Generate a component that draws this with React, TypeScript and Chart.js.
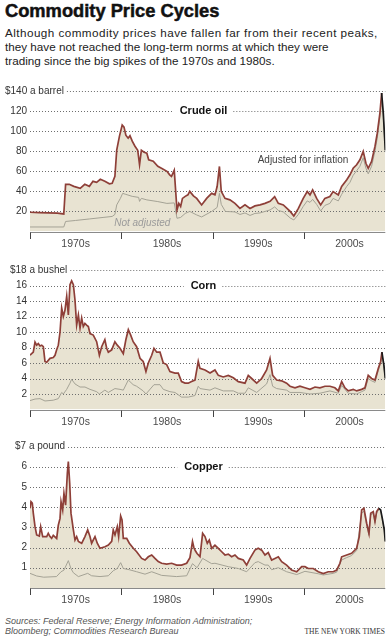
import React, { useEffect, useRef } from 'react';
import { Chart, registerables } from 'chart.js';

Chart.register(...registerables);

const X_MIN = 1970;
const X_MAX = 2008.92;
const decadeTicks = [1970, 1980, 1990, 2000];
const decadeLabels = ['1970s', '1980s', '1990s', '2000s'];

// ---- Crude oil ($ a barrel) ----
const oilRealYears = [1970.0, 1971.0, 1972.0, 1973.0, 1973.7, 1973.9, 1974.3, 1974.8, 1975.5, 1976.0, 1976.5, 1976.9, 1977.3, 1977.7, 1978.2, 1978.7, 1979.0, 1979.3, 1979.5, 1979.8, 1980.1, 1980.3, 1980.5, 1980.75, 1980.95, 1981.2, 1981.5, 1981.8, 1982.0, 1982.2, 1982.5, 1982.8, 1983.0, 1983.5, 1984.0, 1984.4, 1985.0, 1985.3, 1985.5, 1985.8, 1986.1, 1986.3, 1986.5, 1986.7, 1987.0, 1987.3, 1987.5, 1987.9, 1988.26, 1988.8, 1989.35, 1989.9, 1990.26, 1990.5, 1990.75, 1990.95, 1991.36, 1991.9, 1992.45, 1993.0, 1993.55, 1994.1, 1994.64, 1995.2, 1995.74, 1996.3, 1996.8, 1997.2, 1997.75, 1998.5, 1998.9, 1999.4, 1999.93, 2000.37, 2000.67, 2000.96, 2001.4, 2001.84, 2002.3, 2002.85, 2003.2, 2003.77, 2004.14, 2004.7, 2005.05, 2005.4, 2005.78, 2006.14, 2006.5, 2006.8, 2007.05, 2007.42, 2007.79, 2008.04, 2008.33, 2008.52, 2008.7, 2008.92];
const oilRealValues = [19.2, 18.8, 18.5, 18.3, 17.5, 47, 47, 45, 43, 47, 45, 50, 49, 52, 50, 47.5, 48, 55, 81, 95, 106, 104, 96, 93, 95.5, 90, 85, 81, 66.5, 81, 79, 78, 71.5, 70, 65, 63, 60, 56.5, 55, 61, 21.5, 28, 25, 33, 35, 36.5, 40, 35.5, 33, 26.5, 33, 38, 36.5, 44.8, 64.8, 40, 33, 31.5, 28, 23, 26.5, 23, 25.5, 26.5, 28, 30, 34.8, 28, 26.5, 20, 15.5, 23, 33, 39.8, 36.5, 41.5, 33, 26.5, 33, 34.8, 39.8, 36.5, 44.8, 51.5, 56.5, 63, 66.5, 71.5, 79.8, 68, 63, 69.8, 84.8, 98, 118, 138, 118, 81];
const oilNomYears = [1970.0, 1973.7, 1973.9, 1975.0, 1976.5, 1978.0, 1979.0, 1979.3, 1979.5, 1979.9, 1980.15, 1980.5, 1981.2, 1981.9, 1982.0, 1982.2, 1982.8, 1984.0, 1985.0, 1985.8, 1986.1, 1986.5, 1987.0, 1987.5, 1988.26, 1988.8, 1989.9, 1990.5, 1990.75, 1990.95, 1991.4, 1992.45, 1993.0, 1993.55, 1994.1, 1994.64, 1995.2, 1996.3, 1996.8, 1997.2, 1997.75, 1998.5, 1998.9, 1999.4, 1999.93, 2000.37, 2000.67, 2000.96, 2001.4, 2001.84, 2002.3, 2002.85, 2003.2, 2003.77, 2004.14, 2004.7, 2005.05, 2005.4, 2005.78, 2006.14, 2006.5, 2006.8, 2007.05, 2007.42, 2007.79, 2008.04, 2008.33, 2008.52, 2008.7, 2008.92];
const oilNomValues = [4.5, 4.5, 10, 11, 12.5, 14, 15, 17, 26.5, 33, 38, 37, 35, 34, 30, 33, 31.5, 29.8, 28, 28.5, 13.2, 14, 18, 20, 16.5, 14.5, 20, 24, 38, 27, 20, 19.5, 17, 18.5, 16, 18, 18.5, 21.5, 24.5, 21, 19.5, 13.5, 11.5, 17, 25, 30.5, 29, 32, 27, 20.5, 26, 28, 33, 30.5, 37, 45, 49, 56, 60.5, 65, 73.5, 63, 57.5, 65, 80, 93, 114, 133, 115, 79];

// ---- Corn ($ a bushel) ----
const cornRealYears = [1970.0, 1970.18, 1970.36, 1970.55, 1970.73, 1970.91, 1971.1, 1971.28, 1971.46, 1971.64, 1971.83, 1972.19, 1972.55, 1972.74, 1972.92, 1973.1, 1973.29, 1973.47, 1973.65, 1973.83, 1974.02, 1974.2, 1974.38, 1974.56, 1974.75, 1974.93, 1975.11, 1975.3, 1975.48, 1975.66, 1975.84, 1976.02, 1976.2, 1976.39, 1976.57, 1976.93, 1977.3, 1977.6, 1977.85, 1978.2, 1978.4, 1978.58, 1978.95, 1979.3, 1979.56, 1979.86, 1980.22, 1980.5, 1980.77, 1981.03, 1981.3, 1981.68, 1982.05, 1982.4, 1982.7, 1982.96, 1983.33, 1983.58, 1983.88, 1984.24, 1984.6, 1984.97, 1985.33, 1985.88, 1986.24, 1986.6, 1986.98, 1987.34, 1987.7, 1988.07, 1988.43, 1988.62, 1989.17, 1989.72, 1990.26, 1990.63, 1991.17, 1991.72, 1992.27, 1992.82, 1993.55, 1993.91, 1994.28, 1994.83, 1995.38, 1995.92, 1996.29, 1996.58, 1997.02, 1997.57, 1998.11, 1998.48, 1999.03, 1999.57, 2000.12, 2000.67, 2001.22, 2001.76, 2002.31, 2002.86, 2003.4, 2003.77, 2004.14, 2004.5, 2004.86, 2005.41, 2005.78, 2006.33, 2006.69, 2007.05, 2007.42, 2007.79, 2008.15, 2008.41, 2008.55, 2008.77, 2008.92];
const cornRealValues = [7.0, 7.2, 7.4, 8.7, 8.3, 8.5, 8.2, 8.3, 8.1, 6.2, 6.1, 6.6, 6.7, 7.0, 7.7, 8.3, 10.0, 13.1, 12.0, 12.8, 14.6, 12.2, 16.1, 16.6, 16.1, 14.1, 10.9, 12.2, 10.5, 11.8, 10.7, 11.1, 10.9, 10.7, 9.8, 9.6, 8.75, 7.0, 8.1, 9.0, 7.9, 7.4, 7.7, 8.75, 8.3, 7.9, 7.2, 9.0, 10.3, 9.6, 8.75, 8.1, 6.6, 6.2, 4.9, 6.0, 7.0, 7.9, 7.4, 7.4, 6.0, 5.8, 4.9, 4.7, 4.7, 3.6, 3.4, 3.4, 3.6, 3.8, 6.2, 5.3, 5.1, 4.7, 5.1, 4.4, 4.2, 4.4, 4.1, 3.6, 3.4, 4.4, 4.0, 3.4, 4.0, 5.1, 6.6, 4.4, 3.8, 3.7, 3.4, 3.0, 2.8, 3.0, 2.8, 2.6, 2.9, 2.8, 3.0, 3.0, 2.8, 2.4, 3.6, 2.8, 2.4, 2.6, 2.4, 2.6, 2.8, 4.4, 4.0, 3.8, 5.3, 6.2, 7.4, 5.7, 4.0];
const cornNomYears = [1970.0, 1970.55, 1971.1, 1971.64, 1972.55, 1973.1, 1973.47, 1973.65, 1974.02, 1974.38, 1974.56, 1974.93, 1975.48, 1976.02, 1976.57, 1977.3, 1977.6, 1978.2, 1978.58, 1979.3, 1979.86, 1980.22, 1980.77, 1981.3, 1981.68, 1982.4, 1982.7, 1983.58, 1984.24, 1984.6, 1985.33, 1985.88, 1986.6, 1987.34, 1988.07, 1988.43, 1988.62, 1989.72, 1990.26, 1991.17, 1992.27, 1992.82, 1993.55, 1993.91, 1994.83, 1995.92, 1996.29, 1996.58, 1997.02, 1998.11, 1998.48, 1999.57, 2000.12, 2000.67, 2001.76, 2002.86, 2003.77, 2004.14, 2004.86, 2005.78, 2006.33, 2006.69, 2007.05, 2007.42, 2007.79, 2008.15, 2008.41, 2008.55, 2008.77, 2008.92];
const cornNomValues = [1.15, 1.35, 1.4, 1.1, 1.2, 1.4, 2.2, 2.0, 2.6, 3.4, 3.9, 3.3, 2.9, 2.9, 2.6, 2.3, 2.0, 2.5, 2.2, 2.7, 2.6, 2.5, 3.8, 3.2, 3.0, 2.4, 2.0, 3.2, 3.2, 2.6, 2.3, 2.2, 1.6, 1.6, 1.8, 3.0, 2.7, 2.5, 2.8, 2.4, 2.4, 2.1, 2.1, 2.8, 2.2, 3.3, 4.5, 3.0, 2.7, 2.5, 2.2, 2.2, 2.1, 2.0, 2.1, 2.4, 2.1, 3.1, 2.1, 2.0, 2.3, 2.5, 4.0, 3.7, 3.5, 5.0, 6.0, 7.2, 5.5, 3.9];

// ---- Copper ($ a pound) ----
const copperRealYears = [1970.0, 1970.11, 1970.25, 1970.36, 1970.55, 1970.73, 1971.02, 1971.17, 1971.39, 1971.83, 1972.0, 1972.19, 1972.37, 1972.55, 1972.92, 1973.1, 1973.29, 1973.4, 1973.58, 1973.72, 1973.9, 1974.09, 1974.2, 1974.35, 1974.49, 1974.75, 1974.93, 1975.11, 1975.3, 1975.66, 1976.02, 1976.32, 1976.57, 1976.75, 1977.12, 1977.37, 1977.67, 1978.21, 1978.58, 1978.95, 1979.12, 1979.31, 1979.56, 1979.71, 1979.93, 1980.08, 1980.22, 1980.59, 1980.88, 1981.32, 1981.68, 1982.23, 1982.6, 1982.96, 1983.33, 1983.69, 1984.05, 1984.42, 1984.97, 1985.52, 1986.06, 1986.6, 1987.16, 1987.52, 1987.8, 1987.95, 1988.1, 1988.3, 1988.62, 1988.91, 1989.17, 1989.42, 1989.64, 1989.9, 1990.26, 1990.63, 1991.0, 1991.36, 1991.72, 1992.09, 1992.45, 1992.82, 1993.36, 1993.73, 1994.1, 1994.64, 1995.0, 1995.38, 1995.74, 1996.1, 1996.47, 1996.83, 1997.2, 1997.57, 1998.11, 1998.66, 1999.21, 1999.76, 2000.12, 2000.48, 2001.03, 2001.58, 2002.13, 2002.67, 2003.22, 2003.59, 2003.95, 2004.14, 2004.69, 2005.23, 2005.78, 2006.07, 2006.33, 2006.58, 2006.88, 2007.13, 2007.32, 2007.6, 2007.79, 2007.97, 2008.22, 2008.41, 2008.59, 2008.81, 2008.92];
const copperRealValues = [3.94, 4.27, 4.2, 3.7, 3.03, 2.62, 2.57, 3.03, 2.54, 2.54, 2.7, 2.54, 2.45, 2.6, 2.45, 3.1, 3.44, 4.27, 3.86, 4.68, 4.1, 5.67, 6.25, 5.18, 3.7, 2.87, 2.37, 2.54, 2.3, 2.21, 2.54, 2.87, 2.54, 2.21, 2.54, 2.21, 1.96, 2.04, 2.12, 2.3, 2.87, 2.62, 3.03, 2.54, 3.56, 3.36, 2.45, 2.45, 2.21, 1.96, 1.79, 1.46, 1.38, 1.54, 1.63, 1.46, 1.3, 1.22, 1.18, 1.22, 1.13, 1.13, 1.22, 1.5, 2.3, 2.0, 1.85, 1.7, 1.55, 2.7, 2.54, 2.21, 2.37, 1.96, 2.12, 1.96, 1.79, 1.63, 1.67, 1.54, 1.63, 1.46, 1.38, 1.13, 1.46, 1.87, 1.96, 1.87, 1.63, 1.75, 1.38, 1.46, 1.54, 1.3, 1.13, 0.88, 0.8, 1.05, 1.05, 0.96, 0.96, 0.8, 0.71, 0.8, 0.8, 0.88, 1.22, 1.54, 1.63, 1.71, 1.96, 2.54, 3.86, 3.94, 3.2, 2.7, 3.7, 3.78, 3.3, 3.78, 3.94, 3.86, 3.44, 2.87, 2.3];
const copperNomYears = [1970.0, 1970.73, 1971.5, 1972.9, 1973.4, 1973.72, 1974.2, 1974.49, 1974.75, 1975.3, 1976.32, 1976.75, 1977.67, 1978.58, 1979.12, 1979.56, 1979.93, 1980.22, 1980.88, 1981.68, 1982.6, 1983.33, 1984.42, 1986.06, 1987.16, 1987.8, 1988.3, 1988.91, 1989.9, 1990.26, 1991.72, 1992.82, 1993.73, 1994.64, 1995.0, 1995.74, 1996.1, 1996.47, 1997.2, 1998.11, 1999.21, 2000.12, 2001.58, 2002.13, 2003.22, 2003.59, 2004.14, 2004.69, 2005.23, 2005.78, 2006.33, 2006.58, 2006.88, 2007.13, 2007.32, 2007.6, 2007.79, 2007.97, 2008.22, 2008.41, 2008.59, 2008.81, 2008.92];
const copperNomValues = [0.72, 0.59, 0.53, 0.56, 0.8, 0.88, 1.35, 0.95, 0.75, 0.56, 0.72, 0.6, 0.56, 0.6, 0.85, 0.96, 1.25, 0.96, 0.9, 0.8, 0.68, 0.8, 0.62, 0.56, 0.6, 1.2, 1.0, 1.46, 1.2, 1.22, 1.05, 0.96, 0.8, 1.25, 1.3, 1.13, 1.13, 0.9, 1.0, 0.8, 0.66, 0.82, 0.7, 0.64, 0.72, 0.78, 1.38, 1.5, 1.6, 1.85, 3.7, 3.8, 3.1, 2.6, 3.6, 3.7, 3.2, 3.7, 3.9, 3.82, 3.4, 2.85, 2.28];

const FONT = '"Liberation Sans", Arial, Helvetica, sans-serif';
const RED = '#8e3f38';
const GRAY_LINE = '#a4a295';
const FILL = '#e8e3d2';

type Note = { text: string; x: number; y: number; italic?: boolean; color: string };

type PanelProps = {
  top: number;
  height: number;
  padTop: number;
  padBottom: number;
  yMax: number;
  yStep: number;
  topLabel: string;
  topLabelX: number;
  title: string;
  titleValue: number;
  realYears: number[];
  realValues: number[];
  nomYears: number[];
  nomValues: number[];
  blackFrom: number;
  notes: Note[];
};

function Panel(p: PanelProps) {
  const ref = useRef<HTMLCanvasElement>(null);
  useEffect(() => {
    const canvas = ref.current!;
    const real = p.realYears.map((x, i) => ({ x, y: p.realValues[i] }));
    const nominal = p.nomYears.map((x, i) => ({ x, y: p.nomValues[i] }));
    const blackIdx = p.realYears.indexOf(p.blackFrom);
    const ticks: number[] = [];
    for (let v = p.yStep; v <= p.yMax + 1e-9; v += p.yStep) ticks.push(v);

    const deco = {
      id: 'deco',
      afterDatasetDraw(chart: any, args: any) {
        if (args.index !== 0) return;
        const c = chart.ctx;
        const area = chart.chartArea;
        const ys = chart.scales.y;
        c.save();
        c.strokeStyle = '#6e6e6e';
        c.lineWidth = 1;
        c.setLineDash([1, 2]);
        c.font = `bold 11px ${FONT}`;
        const tw = c.measureText(p.title).width;
        const cx = 203.5;
        c.font = `10px ${FONT}`;
        ticks.forEach((v) => {
          const y = Math.round(ys.getPixelForValue(v)) + 0.5;
          let x0 = area.left;
          if (Math.abs(v - p.yMax) < 1e-9) {
            x0 = p.topLabelX + c.measureText(p.topLabel).width + 3;
          }
          const segs: [number, number][] = [];
          if (Math.abs(v - p.titleValue) < 1e-9) {
            segs.push([x0, cx - tw / 2 - 7]);
            segs.push([cx + tw / 2 + 6, area.right]);
          } else {
            segs.push([x0, area.right]);
          }
          segs.forEach(([a, b]) => {
            c.beginPath();
            c.moveTo(a, y);
            c.lineTo(b, y);
            c.stroke();
          });
        });
        c.restore();
      },
      afterDraw(chart: any) {
        const c = chart.ctx;
        const area = chart.chartArea;
        const xs = chart.scales.x;
        const ys = chart.scales.y;
        c.save();
        const by = Math.round(ys.getPixelForValue(0)) + 0.5;
        c.strokeStyle = '#8a8a8a';
        c.lineWidth = 1;
        c.beginPath();
        c.moveTo(area.left, by);
        c.lineTo(area.right, by);
        c.stroke();
        c.strokeStyle = '#444';
        decadeTicks.forEach((d) => {
          const x = Math.round(xs.getPixelForValue(d)) + 0.5;
          c.beginPath();
          c.moveTo(x, by);
          c.lineTo(x, by + 6.5);
          c.stroke();
        });
        c.fillStyle = '#4a4a4a';
        c.font = `10.5px ${FONT}`;
        c.textAlign = 'center';
        c.textBaseline = 'middle';
        decadeTicks.forEach((d, i) => {
          const x = (xs.getPixelForValue(d) + xs.getPixelForValue(d + 10)) / 2;
          c.fillText(decadeLabels[i], x, by + 11.5);
        });
        c.fillStyle = '#333';
        c.font = `10px ${FONT}`;
        ticks.forEach((v) => {
          const y = ys.getPixelForValue(v);
          if (Math.abs(v - p.yMax) < 1e-9) {
            c.textAlign = 'left';
            c.fillText(p.topLabel, p.topLabelX, y);
          } else {
            c.textAlign = 'right';
            c.fillText(String(v), 27, y);
          }
        });
        c.fillStyle = '#111';
        c.font = `bold 11px ${FONT}`;
        c.textAlign = 'center';
        c.fillText(p.title, 203.5, ys.getPixelForValue(p.titleValue));
        p.notes.forEach((n) => {
          c.fillStyle = n.color;
          c.font = `${n.italic ? 'italic ' : ''}10px ${FONT}`;
          c.textAlign = 'center';
          c.fillText(n.text, xs.getPixelForValue(n.x), ys.getPixelForValue(n.y));
        });
        c.restore();
      },
    };

    const chart = new Chart(canvas, {
      type: 'line',
      data: {
        datasets: [
          {
            data: real,
            fill: 'origin',
            backgroundColor: FILL,
            borderWidth: 0,
            borderColor: 'rgba(0,0,0,0)',
            pointRadius: 0,
            tension: 0,
            order: 3,
          },
          {
            data: nominal,
            fill: false,
            borderColor: GRAY_LINE,
            borderWidth: 1,
            pointRadius: 0,
            tension: 0,
            order: 2,
          },
          {
            data: real,
            fill: false,
            borderColor: RED,
            borderWidth: 1.7,
            pointRadius: 0,
            tension: 0,
            order: 1,
            segment: {
              borderColor: (ctx: any) => (ctx.p0DataIndex >= blackIdx ? '#1a1a1a' : RED),
            },
          },
        ],
      } as any,
      options: {
        animation: false,
        responsive: false,
        maintainAspectRatio: false,
        events: [],
        layout: { padding: { left: 30, right: 389 - 385.3, top: p.padTop, bottom: p.padBottom } },
        scales: {
          x: { type: 'linear', min: X_MIN, max: X_MAX, display: false },
          y: { type: 'linear', min: 0, max: p.yMax, display: false },
        },
        plugins: { legend: { display: false }, tooltip: { enabled: false } },
      } as any,
      plugins: [deco],
    });
    return () => chart.destroy();
  }, []);
  return (
    <canvas
      ref={ref}
      width={389}
      height={p.height}
      style={{ position: 'absolute', left: 0, top: p.top, width: 389, height: p.height }}
    />
  );
}

export default function App() {
  return (
    <div
      style={{
        position: 'absolute',
        left: 0,
        top: 0,
        width: 389,
        height: 640,
        background: '#fff',
        overflow: 'hidden',
        fontFamily: FONT,
      }}
    >
      <div
        style={{
          position: 'absolute',
          left: 5,
          top: 0,
          fontSize: 18.3,
          fontWeight: 'bold',
          lineHeight: '21px',
          color: '#111',
          WebkitTextStroke: '0.5px #111',
          whiteSpace: 'nowrap',
        }}
      >
        Commodity Price Cycles
      </div>
      <div
        style={{
          position: 'absolute',
          left: 5,
          top: 26,
          fontSize: 11.7,
          lineHeight: '14px',
          color: '#222',
          whiteSpace: 'nowrap',
        }}
      >
        <span style={{ letterSpacing: '0.45px' }}>
          Although commodity prices have fallen far from their recent peaks,
        </span>
        <br />
        they have not reached the long-term norms at which they were
        <br />
        trading since the big spikes of the 1970s and 1980s.
      </div>

      <Panel
        top={80}
        height={170}
        padTop={11}
        padBottom={18.5}
        yMax={140}
        yStep={20}
        topLabel="$140 a barrel"
        topLabelX={5}
        title="Crude oil"
        titleValue={120}
        realYears={oilRealYears}
        realValues={oilRealValues}
        nomYears={oilNomYears}
        nomValues={oilNomValues}
        blackFrom={2008.52}
        notes={[
          { text: 'Adjusted for inflation', x: 1999.9, y: 71, color: '#444' },
          { text: 'Not adjusted', x: 1982.3, y: 8.2, italic: true, color: '#9a9a9a' },
        ]}
      />
      <Panel
        top={255}
        height={175}
        padTop={15}
        padBottom={20.5}
        yMax={18}
        yStep={2}
        topLabel="$18 a bushel"
        topLabelX={10}
        title="Corn"
        titleValue={16}
        realYears={cornRealYears}
        realValues={cornRealValues}
        nomYears={cornNomYears}
        nomValues={cornNomValues}
        blackFrom={2008.55}
        notes={[]}
      />
      <Panel
        top={432}
        height={178}
        padTop={14.5}
        padBottom={22.1}
        yMax={7}
        yStep={1}
        topLabel="$7 a pound"
        topLabelX={15}
        title="Copper"
        titleValue={6}
        realYears={copperRealYears}
        realValues={copperRealValues}
        nomYears={copperNomYears}
        nomValues={copperNomValues}
        blackFrom={2008.22}
        notes={[]}
      />

      <div
        style={{
          position: 'absolute',
          left: 5,
          top: 616,
          fontSize: 9,
          lineHeight: '10px',
          fontStyle: 'italic',
          color: '#555',
          whiteSpace: 'nowrap',
        }}
      >
        Sources: Federal Reserve; Energy Information Administration;
        <br />
        Bloomberg; Commodities Research Bureau
      </div>
      <div
        style={{
          position: 'absolute',
          right: 4,
          top: 627,
          fontSize: 7.5,
          lineHeight: '10px',
          fontFamily: '"Liberation Serif", "Times New Roman", serif',
          color: '#333',
          whiteSpace: 'nowrap',
        }}
      >
        THE NEW YORK TIMES
      </div>
    </div>
  );
}
